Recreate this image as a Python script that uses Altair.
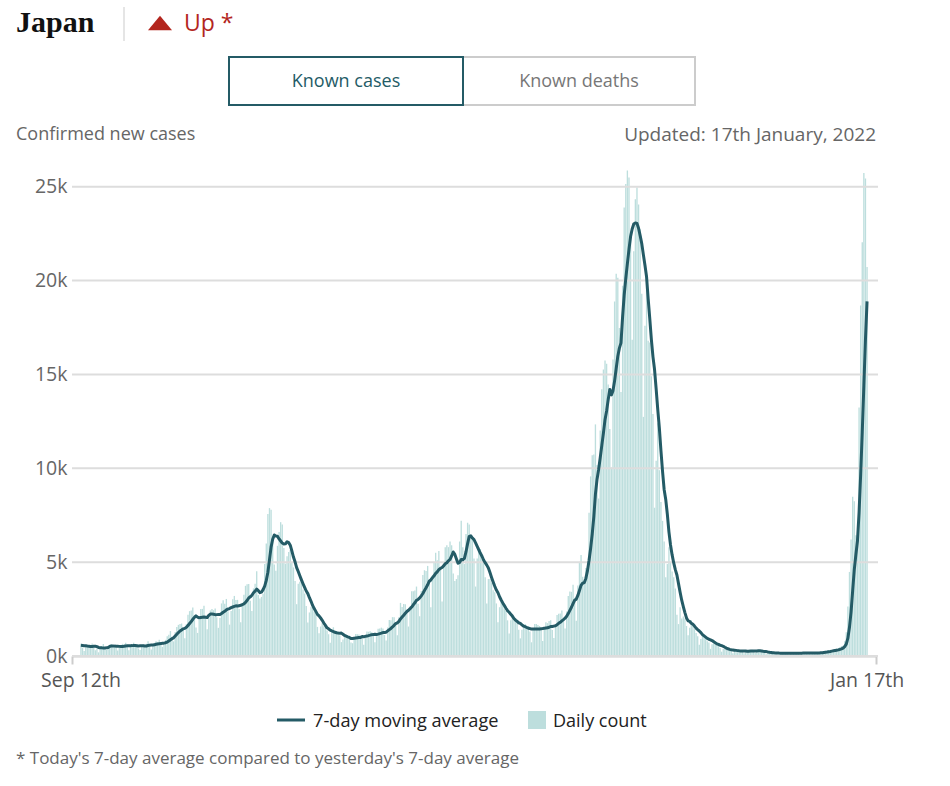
import altair as alt
import pandas as pd

# ---------------- data: daily confirmed new cases, Japan ----------------
# six days before the first shown day (used only to seed the 7-day average)
pre_2020_09 = [520, 350, 560, 600, 680, 660]
sep_2020 = [650, 440, 270, 525, 495, 590, 580, 660, 480, 300, 380, 195, 490, 535,
            645, 470, 325, 520, 600]
oct_2020 = [630, 560, 580, 440, 290, 490, 560, 650, 620, 700, 480, 300, 540, 580,
            700, 620, 620, 400, 320, 550, 620, 590, 650, 780, 540, 350, 560, 700,
            790, 750, 860]
nov_2020 = [613, 485, 600, 860, 1050, 1130, 1330, 1020, 780, 1280, 1540, 1660, 1700,
            1730, 1440, 950, 1700, 2200, 2390, 2420, 2590, 2160, 1520, 1230, 1940,
            2500, 2510, 2680, 2060, 1430]
dec_2020 = [2030, 2430, 2510, 2440, 2530, 2060, 1500, 2030, 2800, 2970, 2790, 3040,
            2380, 1670, 2400, 3020, 3200, 2990, 2990, 2500, 1800, 2680, 3260, 3740,
            3820, 3830, 2940, 2400, 3600, 3850, 4520]
jan_2021 = [3250, 3060, 3150, 3320, 4900, 6000, 7570, 7880, 7790, 6100, 4880, 4540,
            5870, 6600, 7130, 7010, 5760, 4920, 5320, 5540, 5650, 4990, 4720, 3990,
            2760, 3850, 3960, 4130, 3540, 3330, 2670]
feb_2021 = [1790, 2320, 2630, 2580, 2370, 2280, 1550, 1210, 1570, 1750, 1590, 1480,
            1360, 1160, 700, 1300, 1530, 1320, 1320, 1230, 1100, 740, 880, 1080,
            1070, 1060, 1000, 720]
mar_2021 = [680, 990, 1170, 1160, 1150, 1060, 1060, 600, 1130, 1310, 1290, 1320,
            1260, 1070, 730, 1050, 1450, 1460, 1510, 1470, 1120, 820, 1520, 1920,
            1910, 2070, 2070, 1780, 1100, 2070, 2830]
apr_2021 = [2610, 2770, 2760, 2460, 1570, 2650, 3450, 3450, 3490, 3700, 2780, 2120,
            3460, 4310, 4570, 4530, 4800, 4090, 2600, 4300, 5000, 5500, 5100, 5600,
            4600, 2900, 4900, 5800, 5900, 5800]
may_2021 = [6100, 5900, 4400, 4000, 4100, 4300, 6100, 7200, 5800, 4900, 6500, 7100,
            7000, 6300, 6400, 5200, 3700, 5200, 5800, 5700, 5200, 5000, 4200, 2800,
            4100, 4100, 3900, 3500, 3400, 2800, 1800]
jun_2021 = [2600, 2900, 2800, 2500, 2400, 1900, 1200, 1900, 2200, 1900, 1900, 1900,
            1400, 940, 1400, 1700, 1700, 1600, 1600, 1300, 730, 1400, 1700, 1700,
            1650, 1600, 1400, 800, 1500, 1800]
jul_2021 = [1750, 1860, 1900, 1380, 960, 1650, 2180, 2250, 2260, 2420, 1860, 1470,
            2370, 3200, 3430, 3420, 3800, 3100, 1880, 3750, 5020, 5380, 4220, 3990,
            4690, 4690, 7630, 9570, 10700, 10740, 12340]
aug_2021 = [10170, 8390, 12020, 14210, 15260, 15750, 15570, 14470, 12090, 10040,
            15800, 18890, 20370, 20150, 17480, 14060, 19720, 23900, 25150, 25870,
            25490, 22270, 16850, 21570, 24330, 24960, 24050, 22740, 19300, 12740,
            17600]
sep_2021 = [20030, 16800, 16700, 14900, 12900, 7900, 10400, 12400, 9900, 8200, 7200,
            6100, 4200, 4900, 5800, 5000, 4500, 4200, 3600, 2200, 1700, 2600, 2000,
            2100, 2000, 1600, 1100, 1500, 1900, 1600]
oct_2021 = [1450, 1230, 1050, 600, 900, 1130, 1120, 990, 780, 720, 380, 620, 750, 700,
            610, 540, 430, 230, 370, 390, 380, 350, 330, 270, 150, 300, 320, 290, 270,
            280, 250]
nov_2021 = [150, 300, 220, 330, 310, 330, 260, 160, 280, 300, 280, 260, 240, 190, 90,
            150, 190, 200, 190, 170, 140, 80, 110, 170, 180, 170, 160, 130, 80, 110]
dec_2021 = [170, 180, 170, 170, 140, 80, 160, 190, 180, 170, 180, 150, 90, 150, 190,
            190, 180, 200, 170, 120, 260, 280, 290, 300, 290, 280, 230, 370, 400, 410,
            460]
jan_2022 = [530, 550, 780, 1270, 2640, 4480, 6210, 8480, 8250, 6440, 6380, 13240,
            18680, 22050, 25740, 25440, 20730]

months = [pre_2020_09, sep_2020, oct_2020, nov_2020, dec_2020, jan_2021, feb_2021,
          mar_2021, apr_2021, may_2021, jun_2021, jul_2021, aug_2021, sep_2021,
          oct_2021, nov_2021, dec_2021, jan_2022]
values = [v for m in months for v in m]
n_pre = len(pre_2020_09)
days = list(range(-n_pre, len(values) - n_pre))   # 0 = Sep 12th 2020
last_day = days[-1]                               # Jan 17th 2022

x_tick_days = [0, last_day]
x_tick_labels = ["Sep 12th", "Jan 17th"]
y_ticks = [0, 5000, 10000, 15000, 20000, 25000]

title_text = "Japan"
trend_text = "Up *"
tab_cases = "Known cases"
tab_deaths = "Known deaths"
subtitle_left = "Confirmed new cases"
subtitle_right = "Updated: 17th January, 2022"
legend_line = "7-day moving average"
legend_bar = "Daily count"
footnote = "* Today's 7-day average compared to yesterday's 7-day average"

df = pd.DataFrame({"d": days, "v": values})
xlab_df = pd.DataFrame({"d": x_tick_days, "lab": x_tick_labels})
grid_df = pd.DataFrame({"t": y_ticks})
one = pd.DataFrame({"k": [0]})

# ---------------- layout ----------------
OX, OY = 72, 168          # plot origin in page pixels
W, H = 804, 488
X_MIN, X_MAX = -5.6, last_day + 5.6
FONT = "Open Sans"
TEAL = "#245b66"
BAR = "#bddedd"
RED = "#b3261e"
GREY = "#666666"
DY = 2                    # optical shift for middle-baseline texts

xscale = alt.Scale(domain=[X_MIN, X_MAX], nice=False, zero=False, padding=0)
yscale = alt.Scale(domain=[0, 26000], nice=False, padding=0)

xaxis = alt.Axis(values=[X_MIN, X_MAX], labels=False, ticks=True, tickSize=8,
                 tickColor="#cccccc", tickWidth=2, domainColor="#cccccc",
                 domainWidth=2, grid=False, title=None)
yaxis = alt.Axis(values=y_ticks, labelExpr="datum.value/1000 + 'k'", ticks=False,
                 domain=False, grid=False, labelFont=FONT, labelFontSize=19.5,
                 labelColor=GREY, labelPadding=5, title=None)

base = (alt.Chart(df)
        .transform_window(avg="mean(v)", frame=[-6, 0], sort=[alt.SortField("d")])
        .transform_filter("datum.d >= 0"))

bars = (base.transform_calculate(x0="datum.d - 0.42", x1="datum.d + 0.42", z="0")
        .mark_rect(color=BAR)
        .encode(x=alt.X("x0:Q", scale=xscale, axis=xaxis), x2="x1:Q",
                y=alt.Y("v:Q", scale=yscale, axis=yaxis), y2="z:Q"))

grid = (alt.Chart(grid_df).mark_rule(color="#dddddd", strokeWidth=2)
        .encode(y=alt.Y("t:Q", scale=yscale, axis=yaxis),
                x=alt.value(0), x2=alt.value(W + 2)))

line = (base.mark_line(color=TEAL, strokeWidth=3, strokeJoin="round")
        .encode(x=alt.X("d:Q", scale=xscale, axis=xaxis),
                y=alt.Y("avg:Q", scale=yscale, axis=yaxis)))

xlabels = (alt.Chart(xlab_df)
           .mark_text(font=FONT, fontSize=19.5, color="#555555", baseline="middle")
           .encode(x=alt.X("d:Q", scale=xscale, axis=xaxis),
                   y=alt.value(H + 23 + DY), text="lab:N"))


def txt(s, x, y, size, color, align="left", font=FONT, weight="normal",
        baseline="middle"):
    yy = y + DY if baseline == "middle" else y
    return (alt.Chart(pd.DataFrame({"t": [s]}))
            .mark_text(align=align, baseline=baseline, font=font, fontSize=size,
                       color=color, fontWeight=weight)
            .encode(x=alt.value(x - OX), y=alt.value(yy - OY), text="t:N"))


def rect(x1, y1, x2, y2, fill, stroke=None, sw=0):
    kw = dict(fill=fill)
    if stroke:
        kw.update(stroke=stroke, strokeWidth=sw)
    return (alt.Chart(one).mark_rect(**kw)
            .encode(x=alt.value(x1 - OX), x2=alt.value(x2 - OX),
                    y=alt.value(y1 - OY), y2=alt.value(y2 - OY)))


def hrule(x1, x2, y, color, sw):
    return (alt.Chart(one).mark_rule(color=color, strokeWidth=sw)
            .encode(x=alt.value(x1 - OX), x2=alt.value(x2 - OX), y=alt.value(y - OY)))


divider = (alt.Chart(one).mark_rule(color="#dddddd", strokeWidth=1.5)
           .encode(x=alt.value(124 - OX), y=alt.value(7 - OY), y2=alt.value(41 - OY)))

triangle = (alt.Chart(one)
            .mark_point(shape="M-1,0.6L1,0.6L0,-0.6Z", filled=True, size=576,
                        color=RED, opacity=1)
            .encode(x=alt.value(160 - OX), y=alt.value(23 - OY)))

layers = [
    bars, grid, line, xlabels,
    txt(title_text, 16, 32, 30, "#111111", font="Liberation Serif", weight="bold",
        baseline="alphabetic"),
    divider, triangle,
    txt(trend_text, 184, 31, 23, RED, baseline="alphabetic"),
    rect(463, 57, 695, 105, "white", "#cccccc", 2),
    rect(229, 57, 463, 105, "white", TEAL, 2),
    txt(tab_cases, 346, 80, 18, TEAL, align="center"),
    txt(tab_deaths, 579, 80, 18, "#777777", align="center"),
    txt(subtitle_left, 16, 133, 18, GREY),
    txt(subtitle_right, 876, 133, 19, GREY, align="right"),
    hrule(277, 305, 720, TEAL, 3),
    txt(legend_line, 313, 720, 18.2, "#222222"),
    rect(528, 711, 546, 729, BAR),
    txt(legend_bar, 553, 720, 18, "#222222"),
    txt(footnote, 16, 757, 17, GREY),
]

chart = (alt.layer(*layers)
         .properties(width=W, height=H,
                     padding={"left": OX, "top": OY, "right": 950 - OX - W,
                              "bottom": 786 - OY - H},
                     autosize=alt.AutoSizeParams(type="none"),
                     background="white")
         .configure_view(stroke=None))

chart.save("out.html", embed_options={"renderer": "svg", "actions": False})
